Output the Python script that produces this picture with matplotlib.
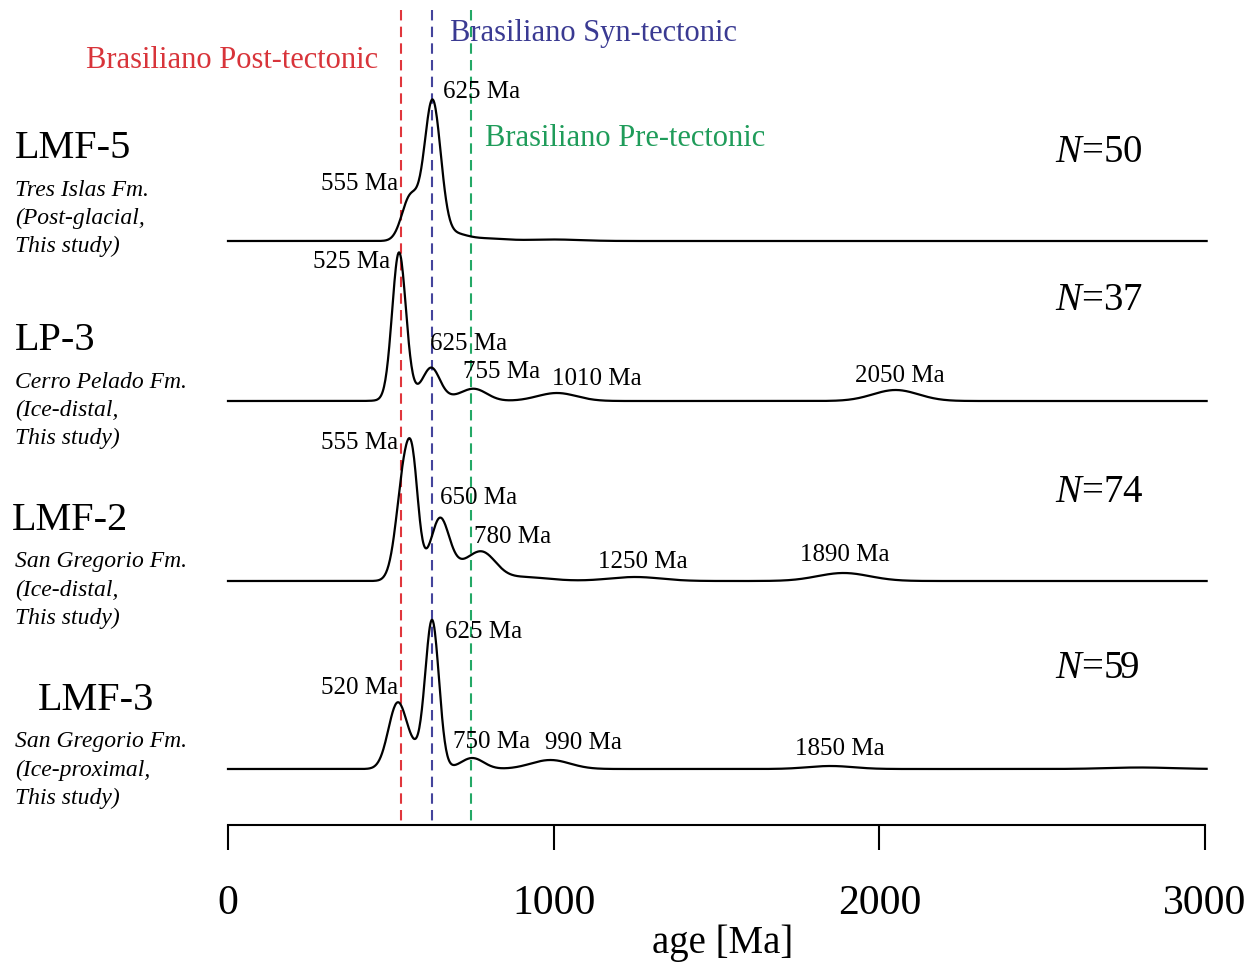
import numpy as np
import matplotlib
matplotlib.use('Agg')
import matplotlib.pyplot as plt

plt.rcParams['font.family'] = ['Liberation Serif', 'DejaVu Serif']
plt.rcParams['mathtext.fontset'] = 'custom'
plt.rcParams['mathtext.it'] = 'Liberation Serif:italic'
plt.rcParams['mathtext.rm'] = 'Liberation Serif'

# Samples, top to bottom
samples = ['LMF-5', 'LP-3', 'LMF-2', 'LMF-3']
formations = ['Tres Islas Fm.', 'Cerro Pelado Fm.', 'San Gregorio Fm.', 'San Gregorio Fm.']
settings = ['(Post-glacial,', '(Ice-distal,', '(Ice-distal,', '(Ice-proximal,']
n_grains = [50, 37, 74, 59]

# KDE peak components: (age Ma, height, width Ma)
peaks_lmf5 = [(560, 44, 26), (628, 138, 25), (690, 7, 40), (790, 2.5, 60), (1000, 1.5, 80)]
peaks_lp3 = [(525, 145, 21), (625, 26, 25), (600, 8, 60), (755, 12, 40), (1010, 8, 60), (2050, 11, 70)]
peaks_lmf2 = [(548, 125, 27), (570, 35, 15), (650, 56, 28), (720, 14, 60), (785, 20, 40), (900, 4, 80),
              (1250, 4, 80), (1890, 8, 80)]
peaks_lmf3 = [(520, 64, 28), (627, 146, 21), (575, 14, 30), (750, 11, 35), (990, 9, 60),
              (1850, 3, 70), (2800, 1.5, 100)]
all_peaks = [peaks_lmf5, peaks_lp3, peaks_lmf2, peaks_lmf3]

# vertical baselines of the stacked curves (plot units from top)
baselines = [241, 401, 581, 769]

# peak annotations: (text, age, level, alignment)
peak_labels = [
    [('625 Ma', 660, 92, 'left'), ('555 Ma', 522, 184, 'right')],
    [('525 Ma', 498, 262, 'right'), ('625 Ma', 620, 344, 'left'), ('755 Ma', 722, 372, 'left'),
     ('1010 Ma', 995, 379, 'left'), ('2050 Ma', 1926, 376, 'left')],
    [('555 Ma', 522, 443, 'right'), ('650 Ma', 651, 498, 'left'), ('780 Ma', 755, 537, 'left'),
     ('1250 Ma', 1136, 562, 'left'), ('1890 Ma', 1757, 555, 'left')],
    [('625 Ma', 666, 632, 'left'), ('520 Ma', 522, 688, 'right'), ('750 Ma', 691, 742, 'left'),
     ('990 Ma', 973, 743, 'left'), ('1850 Ma', 1741, 749, 'left')],
]

# Brasiliano reference ages
event_ages = [530, 625, 745]
event_names = ['Brasiliano Post-tectonic', 'Brasiliano Syn-tectonic', 'Brasiliano Pre-tectonic']
event_colors = ['#e0363c', '#44449c', '#24a866']
event_text_colors = ['#d8343a', '#3a3a92', '#1f9c5a']

fig = plt.figure(figsize=(12.5, 9.66), dpi=100)
ax = fig.add_axes([228 / 1250, 141 / 966, 977 / 1250, 825 / 966])
ax.set_xlim(0, 3000)
ax.set_ylim(825, 0)

ages = np.linspace(0, 3005, 1500)
for base, comps in zip(baselines, all_peaks):
    dens = np.zeros_like(ages)
    for mu, h, s in comps:
        dens += h * np.exp(-0.5 * ((ages - mu) / s) ** 2)
    ax.plot(ages, base - dens, color='black', lw=1.6, clip_on=False, zorder=3)

for age, col in zip(event_ages, event_colors):
    ax.vlines(age, 10, 825, colors=col, linestyles=(0, (5, 3)), lw=1.5, zorder=2, clip_on=False)

ax.text(461, 60, event_names[0], color=event_text_colors[0], fontsize=22, ha='right', va='center')
ax.text(682, 33, event_names[1], color=event_text_colors[1], fontsize=22, ha='left', va='center')
ax.text(789, 138, event_names[2], color=event_text_colors[2], fontsize=22, ha='left', va='center')

name_y = [148, 340, 520, 700]
name_x = [-654, -654, -663, -583]
n_y = [152, 300, 492, 668]
for i in range(4):
    ax.text(name_x[i], name_y[i], samples[i], fontsize=29, ha='left', va='center', clip_on=False)
    lines = [formations[i], settings[i], 'This study)']
    for j, t in enumerate(lines):
        ax.text(-654, name_y[i] + 42 + 28 * j, t, fontsize=17, style='italic',
                ha='left', va='center', clip_on=False)
    ax.text(2539, n_y[i], r'$N$=' + str(n_grains[i]), fontsize=28, ha='left', va='center')
    for txt, x, y, ha in peak_labels[i]:
        ax.text(x, y, txt, fontsize=18, ha=ha, va='center', zorder=4)

for s in ['top', 'left', 'right']:
    ax.spines[s].set_visible(False)
ax.spines['bottom'].set_linewidth(1.5)
ax.set_yticks([])
ax.set_xticks([0, 1000, 2000, 3000])
ax.tick_params(axis='x', direction='out', length=18, width=1.5, pad=25, labelsize=30)
ax.text(1520, 943, 'age [Ma]', fontsize=28, ha='center', va='center', clip_on=False)

fig.savefig('out.png', dpi=100)
